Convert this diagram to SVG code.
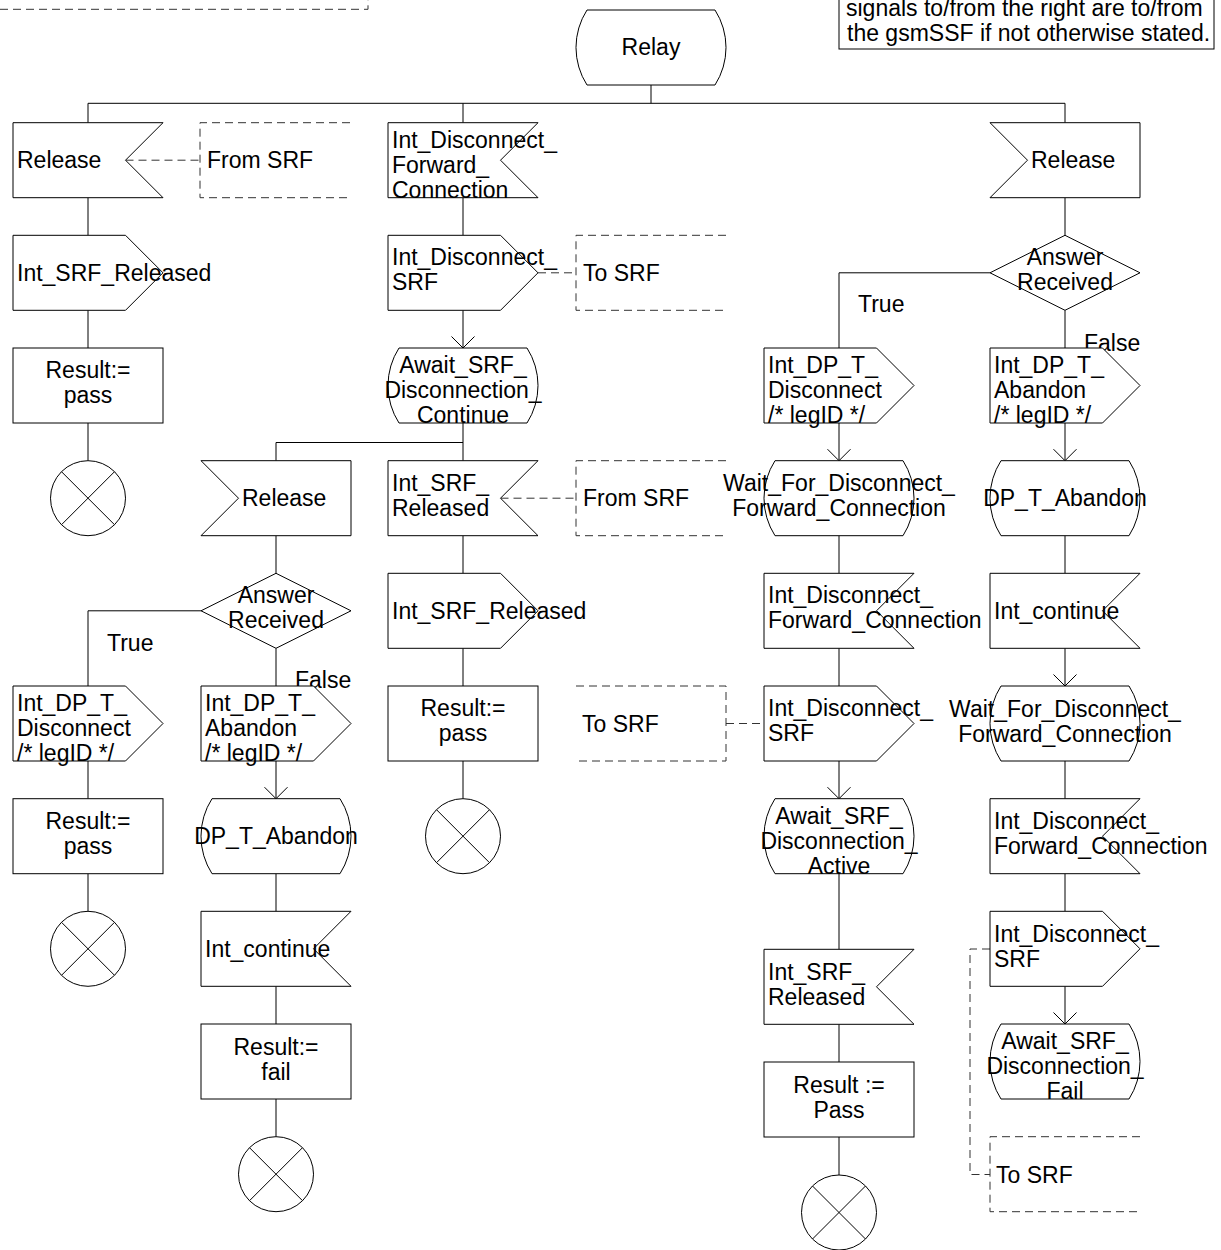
<svg xmlns="http://www.w3.org/2000/svg" xmlns:xlink="http://www.w3.org/1999/xlink" width="1221" height="1250" viewBox="0 0 1221 1250">
<style>
.s{fill:#fff;stroke:#000;stroke-width:1}
.c{fill:none;stroke:#000;stroke-width:1}
.d{fill:none;stroke:#333;stroke-width:1;stroke-dasharray:8,5}
text{font-family:"Liberation Sans",Arial,sans-serif;font-size:23px;fill:#000}
.m{text-anchor:middle}
</style>
<defs>
<marker id="ah" viewBox="0 0 12 24" refX="12" refY="12" markerWidth="12" markerHeight="24" markerUnits="userSpaceOnUse" orient="auto" overflow="visible"><path d="M0.5,0.5 L12,12 L0.5,23.5" fill="none" stroke="#000" stroke-width="1"/></marker>
<polygon id="inR" class="s" points="0,0 150,0 112.5,37.5 150,75 0,75"/>
<polygon id="inL" class="s" points="0,0 150,0 150,75 0,75 37.5,37.5"/>
<polygon id="out" class="s" points="0,0 112.5,0 150,37.5 112.5,75 0,75"/>
<rect id="task" class="s" x="0" y="0" width="150" height="75"/>
<path id="state" class="s" d="M11,0 L139,0 A69.4,69.4 0 0 1 139,75 L11,75 A69.4,69.4 0 0 1 11,0 Z"/>
<polygon id="dec" class="s" points="0,37.5 75,0 150,37.5 75,75"/>
<g id="stop"><circle class="s" cx="0" cy="0" r="37.5"/><path class="c" d="M-26.5,-26.5 L26.5,26.5 M26.5,-26.5 L-26.5,26.5"/></g>
<path id="cmR" class="d" d="M150,0 H0 V75 H150"/>
<path id="cmL" class="d" d="M0,0 H150 V75 H0"/>
</defs>

<g id="frame-marks">
<path class="d" d="M0,9.3 H368 V0"/>
</g>
<g id="note">
<rect class="s" x="839" y="-30" width="375" height="79"/>
<text x="846" y="15.5">signals to/from the right are to/from</text>
<text x="847" y="40.5">the gsmSSF if not otherwise stated.</text>
</g>

<g id="connectors">
<path class="c" d="M651,85 V103.3 M88,103.3 H1065 M88,103.3 V122.7 M463,103.3 V122.7 M1065,103.3 V122.7"/>
<path class="c" d="M88,197.7 V235.3 M88,310.3 V348 M88,423 V460.7 M88,761 V798.7 M88,873.7 V911.3"/>
<path class="c" d="M463,197.7 V235.3 M463,423 V460.7 M463,442.5 H276 V460.7 M463,535.7 V573.3 M463,648.3 V686 M463,761 V798.7"/>
<path class="c" d="M463,310.3 V348" marker-end="url(#ah)"/>
<path class="c" d="M276,535.7 V573.3 M201,610.8 H88 V686 M276,648.3 V686 M276,873.7 V911.3 M276,986.3 V1024 M276,1099 V1136.7"/>
<path class="c" d="M276,761 V798.7" marker-end="url(#ah)"/>
<path class="c" d="M1065,197.7 V235.3 M990,272.8 H839 V348 M1065,310.3 V348 M1065,535.7 V573.3 M1065,761 V798.7 M1065,873.7 V911.3"/>
<path class="c" d="M1065,423 V460.7" marker-end="url(#ah)"/>
<path class="c" d="M1065,648.3 V686" marker-end="url(#ah)"/>
<path class="c" d="M1065,986.3 V1024" marker-end="url(#ah)"/>
<path class="c" d="M839,535.7 V573.3 M839,648.3 V686 M839,873.7 V949.3 M839,1024.3 V1062 M839,1137 V1175"/>
<path class="c" d="M839,423 V460.7" marker-end="url(#ah)"/>
<path class="c" d="M839,761 V798.7" marker-end="url(#ah)"/>
<path class="d" d="M125.5,160.2 H200 M538,272.8 H576 M500.5,498.2 H576 M726,723.5 H764 M990,949 H970 V1174.5 H990"/>
<text x="107" y="650.5">True</text>
<text x="295" y="688">False</text>
<text x="858" y="312">True</text>
<text x="1084" y="350.5">False</text>
</g>

<g id="relay" transform="translate(576,10)"><use href="#state"/><text class="m" x="75" y="45">Relay</text></g>

<g id="a1" transform="translate(13,122.7)"><use href="#inR"/><text x="4" y="45.5">Release</text></g>
<g id="a1c" transform="translate(200,122.7)"><use href="#cmR"/><text x="7" y="45.5">From SRF</text></g>
<g id="a2" transform="translate(13,235.3)"><use href="#out"/><text x="4" y="45.5">Int_SRF_Released</text></g>
<g id="a3" transform="translate(13,348)"><use href="#task"/><text class="m" x="75" y="30">Result:=</text><text class="m" x="75" y="55">pass</text></g>
<g id="a4" transform="translate(88,498.2)"><use href="#stop"/></g>
<g id="a6" transform="translate(13,686)"><use href="#out"/><text x="4" y="25">Int_DP_T_</text><text x="4" y="50">Disconnect</text><text x="4" y="75">/* legID */</text></g>
<g id="a7" transform="translate(13,798.7)"><use href="#task"/><text class="m" x="75" y="30.5">Result:=</text><text class="m" x="75" y="55.5">pass</text></g>
<g id="a8" transform="translate(88,948.8)"><use href="#stop"/></g>

<g id="c1" transform="translate(388,122.7)"><use href="#inR"/><text x="4" y="25.5">Int_Disconnect_</text><text x="4" y="50.5">Forward_</text><text x="4" y="75.5">Connection</text></g>
<g id="c2" transform="translate(388,235.3)"><use href="#out"/><text x="4" y="30">Int_Disconnect_</text><text x="4" y="55">SRF</text></g>
<g id="c2c" transform="translate(576,235.3)"><use href="#cmR"/><text x="7" y="45.5">To SRF</text></g>
<g id="c3" transform="translate(388,348)"><use href="#state"/><text class="m" x="75" y="25">Await_SRF_</text><text class="m" x="75" y="50">Disconnection_</text><text class="m" x="75" y="75">Continue</text></g>
<g id="c4" transform="translate(388,460.7)"><use href="#inR"/><text x="4" y="30.5">Int_SRF_</text><text x="4" y="55.5">Released</text></g>
<g id="c4c" transform="translate(576,460.7)"><use href="#cmR"/><text x="7" y="45.5">From SRF</text></g>
<g id="c5" transform="translate(388,573.3)"><use href="#out"/><text x="4" y="45.5">Int_SRF_Released</text></g>
<g id="c6" transform="translate(388,686)"><use href="#task"/><text class="m" x="75" y="30">Result:=</text><text class="m" x="75" y="55">pass</text></g>
<g id="c6c" transform="translate(576,686)"><use href="#cmL"/><text x="6" y="45.5">To SRF</text></g>
<g id="c7" transform="translate(463,836.2)"><use href="#stop"/></g>

<g id="b4" transform="translate(201,460.7)"><use href="#inL"/><text x="41" y="45.5">Release</text></g>
<g id="b5" transform="translate(201,573.3)"><use href="#dec"/><text class="m" x="75" y="30">Answer</text><text class="m" x="75" y="55">Received</text></g>
<g id="b6" transform="translate(201,686)"><use href="#out"/><text x="4" y="25">Int_DP_T_</text><text x="4" y="50">Abandon</text><text x="4" y="75">/* legID */</text></g>
<g id="b7" transform="translate(201,798.7)"><use href="#state"/><text class="m" x="75" y="45">DP_T_Abandon</text></g>
<g id="b8" transform="translate(201,911.3)"><use href="#inR"/><text x="4" y="45.5">Int_continue</text></g>
<g id="b9" transform="translate(201,1024)"><use href="#task"/><text class="m" x="75" y="31">Result:=</text><text class="m" x="75" y="56">fail</text></g>
<g id="b10" transform="translate(276,1174.2)"><use href="#stop"/></g>

<g id="d3" transform="translate(764,348)"><use href="#out"/><text x="4" y="25">Int_DP_T_</text><text x="4" y="50">Disconnect</text><text x="4" y="75">/* legID */</text></g>
<g id="d4" transform="translate(764,460.7)"><use href="#state"/><text class="m" x="75" y="30">Wait_For_Disconnect_</text><text class="m" x="75" y="55">Forward_Connection</text></g>
<g id="d5" transform="translate(764,573.3)"><use href="#inR"/><text x="4" y="30">Int_Disconnect_</text><text x="4" y="55">Forward_Connection</text></g>
<g id="d6" transform="translate(764,686)"><use href="#out"/><text x="4" y="30">Int_Disconnect_</text><text x="4" y="55">SRF</text></g>
<g id="d7" transform="translate(764,798.7)"><use href="#state"/><text class="m" x="75" y="25">Await_SRF_</text><text class="m" x="75" y="50">Disconnection_</text><text class="m" x="75" y="75">Active</text></g>
<g id="d8" transform="translate(764,949.3)"><use href="#inR"/><text x="4" y="30.5">Int_SRF_</text><text x="4" y="55.5">Released</text></g>
<g id="d9" transform="translate(764,1062)"><use href="#task"/><text class="m" x="75" y="31">Result :=</text><text class="m" x="75" y="56">Pass</text></g>
<g id="d10" transform="translate(839,1212.5)"><use href="#stop"/></g>

<g id="e1" transform="translate(990,122.7)"><use href="#inL"/><text x="41" y="45.5">Release</text></g>
<g id="e2" transform="translate(990,235.3)"><use href="#dec"/><text class="m" x="75" y="30">Answer</text><text class="m" x="75" y="55">Received</text></g>
<g id="e3" transform="translate(990,348)"><use href="#out"/><text x="4" y="25">Int_DP_T_</text><text x="4" y="50">Abandon</text><text x="4" y="75">/* legID */</text></g>
<g id="e4" transform="translate(990,460.7)"><use href="#state"/><text class="m" x="75" y="45">DP_T_Abandon</text></g>
<g id="e5" transform="translate(990,573.3)"><use href="#inR"/><text x="4" y="45.5">Int_continue</text></g>
<g id="e6" transform="translate(990,686)"><use href="#state"/><text class="m" x="75" y="30.5">Wait_For_Disconnect_</text><text class="m" x="75" y="55.5">Forward_Connection</text></g>
<g id="e7" transform="translate(990,798.7)"><use href="#inR"/><text x="4" y="30.5">Int_Disconnect_</text><text x="4" y="55.5">Forward_Connection</text></g>
<g id="e8" transform="translate(990,911.3)"><use href="#out"/><text x="4" y="31">Int_Disconnect_</text><text x="4" y="56">SRF</text></g>
<g id="e9" transform="translate(990,1024)"><use href="#state"/><text class="m" x="75" y="25">Await_SRF_</text><text class="m" x="75" y="50">Disconnection_</text><text class="m" x="75" y="75">Fail</text></g>
<g id="e10c" transform="translate(990,1136.7)"><use href="#cmR"/><text x="6" y="46">To SRF</text></g>
</svg>
